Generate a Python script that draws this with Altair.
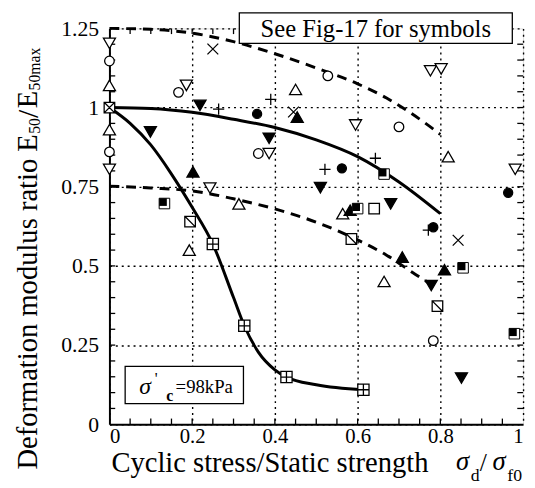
import altair as alt
import pandas as pd

# ---------------- data ----------------
# open down-triangles
OTD_X = [0.0, 0.0, 0.186, 0.386, 0.595, 0.776, 0.802, 0.981, 0.243]
OTD_Y = [1.203, 0.805, 1.07, 0.855, 0.945, 1.116, 1.122, 0.805, 0.746]
# open circles
OC_X = [0.0, 0.0, 0.167, 0.528, 0.36, 0.70, 0.783]
OC_Y = [1.147, 0.86, 1.048, 1.10, 0.855, 0.939, 0.264]
# open up-triangles
OTU_X = [0.0, 0.0, 0.45, 0.819, 0.313, 0.193, 0.564, 0.664]
OTU_Y = [1.07, 0.93, 1.057, 0.845, 0.696, 0.55, 0.665, 0.451]
# filled down-triangles
FTD_X = [0.219, 0.099, 0.386, 0.51, 0.68, 0.778, 0.851]
FTD_Y = [1.007, 0.923, 0.903, 0.747, 0.696, 0.438, 0.146]
# filled up-triangles
FTU_X = [0.454, 0.202, 0.708, 0.81, 0.582]
FTU_Y = [0.97, 0.797, 0.528, 0.488, 0.676]
# filled circles
FC_X = [0.357, 0.562, 0.783, 0.964]
FC_Y = [0.98, 0.808, 0.622, 0.731]
# plus signs
PL_X = [0.264, 0.39, 0.521, 0.643, 0.771]
PL_Y = [0.995, 1.026, 0.805, 0.84, 0.613]
# crosses
CR_X = [0.25, 0.445, 0.843]
CR_Y = [1.185, 0.986, 0.581]
# shadowed filled squares
SQF_X = [0.133, 0.6, 0.664, 0.855, 0.979]
SQF_Y = [0.697, 0.681, 0.79, 0.494, 0.286]
# open squares
SQO_X = [0.64]
SQO_Y = [0.681]
# squares with diagonal
SQD_X = [0.195, 0.585, 0.793]
SQD_Y = [0.64, 0.585, 0.373]
# squares with plus (98 kPa series)
SQP_X = [0.25, 0.326, 0.428, 0.614]
SQP_Y = [0.569, 0.311, 0.149, 0.109]
# origin symbol
ORG_X = [0.0]
ORG_Y = [1.0]

# curves
UPPER_SOLID_X = [0.0, 0.1, 0.2, 0.3, 0.4, 0.5, 0.6, 0.7, 0.8]
UPPER_SOLID_Y = [1.0, 0.997, 0.985, 0.963, 0.937, 0.898, 0.845, 0.765, 0.665]
LOWER_SOLID_X = [0.0, 0.05, 0.1, 0.15, 0.2, 0.25, 0.3, 0.326, 0.36, 0.4, 0.428, 0.5, 0.614]
LOWER_SOLID_Y = [1.0, 0.95, 0.882, 0.79, 0.685, 0.569, 0.40, 0.311, 0.228, 0.172, 0.149, 0.125, 0.109]
UPPER_DASH_X = [0.0, 0.1, 0.2, 0.3, 0.4, 0.5, 0.6, 0.67, 0.72, 0.78, 0.8]
UPPER_DASH_Y = [1.25, 1.247, 1.235, 1.208, 1.17, 1.125, 1.075, 1.03, 0.99, 0.935, 0.915]
LOWER_DASH_X = [0.0, 0.1, 0.2, 0.3, 0.4, 0.5, 0.6, 0.67, 0.74, 0.78]
LOWER_DASH_Y = [0.752, 0.746, 0.737, 0.712, 0.68, 0.638, 0.582, 0.534, 0.473, 0.44]

X_TICKS = [0, 0.2, 0.4, 0.6, 0.8, 1.0]
Y_TICKS = [0, 0.25, 0.5, 0.75, 1.0, 1.25]
X_MINOR = [0.05, 0.1, 0.15, 0.2, 0.25, 0.3, 0.35, 0.4, 0.45, 0.5, 0.55, 0.6, 0.65,
           0.7, 0.75, 0.8, 0.85, 0.9, 0.95]
Y_MINOR = [0.05, 0.1, 0.15, 0.2, 0.25, 0.3, 0.35, 0.4, 0.45, 0.5, 0.55, 0.6, 0.65,
           0.7, 0.75, 0.8, 0.85, 0.9, 0.95, 1.0, 1.05, 1.1, 1.15, 1.2]

FONT = "Liberation Serif"

xscale = alt.Scale(domain=[0, 1], nice=False, zero=False)
yscale = alt.Scale(domain=[0, 1.25], nice=False, zero=False)

xaxis = alt.Axis(values=X_TICKS, labelExpr="'' + datum.value", title=None, ticks=False, tickSize=0,
                 grid=True, gridDash=[2, 4], gridColor="black", gridWidth=1.4,
                 domainColor="black", domainWidth=2, labelFont=FONT, labelFontSize=21,
                 labelColor="black", labelPadding=1, labelBaseline="top")
yaxis = alt.Axis(values=Y_TICKS, labelExpr="'' + datum.value", title=None, ticks=False, tickSize=0,
                 grid=True, gridDash=[2, 4], gridColor="black", gridWidth=1.4,
                 domainColor="black", domainWidth=2, labelFont=FONT, labelFontSize=22,
                 labelColor="black", labelPadding=11)


def X(field="x"):
    return alt.X(f"{field}:Q", scale=xscale, axis=xaxis)


def Y(field="y"):
    return alt.Y(f"{field}:Q", scale=yscale, axis=yaxis)


def df(xs, ys):
    return pd.DataFrame({"x": xs, "y": ys})


layers = []

# minor ticks (inward) on all four sides
layers.append(alt.Chart(pd.DataFrame({"x": X_MINOR})).mark_rule(color="black", strokeWidth=1.3)
              .encode(x=X(), y=alt.datum(0), y2=alt.datum(0.018)))
layers.append(alt.Chart(pd.DataFrame({"x": X_MINOR})).mark_rule(color="black", strokeWidth=1.3)
              .encode(x=X(), y=alt.datum(1.232), y2=alt.datum(1.25)))
layers.append(alt.Chart(pd.DataFrame({"y": Y_MINOR})).mark_rule(color="black", strokeWidth=1.3)
              .encode(y=Y(), x=alt.datum(0), x2=alt.datum(0.014)))
layers.append(alt.Chart(pd.DataFrame({"y": Y_MINOR})).mark_rule(color="black", strokeWidth=1.3)
              .encode(y=Y(), x=alt.datum(0.986), x2=alt.datum(1.0)))

# curves
for xs, ys, dash in [(UPPER_SOLID_X, UPPER_SOLID_Y, None), (LOWER_SOLID_X, LOWER_SOLID_Y, None),
                     (UPPER_DASH_X, UPPER_DASH_Y, [10, 7]), (LOWER_DASH_X, LOWER_DASH_Y, [10, 7])]:
    kw = dict(color="black", strokeWidth=3, interpolate="monotone")
    if dash:
        kw["strokeDash"] = dash
    layers.append(alt.Chart(df(xs, ys)).mark_line(**kw).encode(x=X(), y=Y()))

SQUARE_PLUS = "M-1,-1H1V1H-1Z M0,-1V1 M-1,0H1"
SQUARE_DIAG = "M-1,-1H1V1H-1Z M-1,-1L1,1"
SQUARE_X = "M-1,-1H1V1H-1Z M-1,-1L1,1 M-1,1L1,-1"
PLUS = "M-1,0H1 M0,-1V1"
CROSS = "M-1,-1L1,1 M-1,1L1,-1"
SHADOW = "M-1,-1H0.45V0.45H-1Z"


def pts(xs, ys, shape, size, fill, stroke="black", sw=1.3):
    return alt.Chart(df(xs, ys)).mark_point(shape=shape, size=size, filled=True, fill=fill,
                                            stroke=stroke, strokeWidth=sw, opacity=1).encode(x=X(), y=Y())


layers.append(pts(OTD_X, OTD_Y, "triangle-down", 150, "white"))
layers.append(pts(OC_X, OC_Y, "circle", 95, "white"))
layers.append(pts(OTU_X, OTU_Y, "triangle-up", 150, "white"))
layers.append(pts(FTD_X, FTD_Y, "triangle-down", 150, "black"))
layers.append(pts(FTU_X, FTU_Y, "triangle-up", 150, "black"))
layers.append(pts(FC_X, FC_Y, "circle", 85, "black"))
layers.append(alt.Chart(df(PL_X, PL_Y)).mark_point(shape=PLUS, size=130, filled=False, stroke="black",
                                                    strokeWidth=1.3, opacity=1).encode(x=X(), y=Y()))
layers.append(alt.Chart(df(CR_X, CR_Y)).mark_point(shape=CROSS, size=120, filled=False, stroke="black",
                                                    strokeWidth=1.3, opacity=1).encode(x=X(), y=Y()))
layers.append(pts(SQF_X, SQF_Y, "square", 115, "white", sw=1.0))
layers.append(alt.Chart(df(SQF_X, SQF_Y)).mark_point(shape=SHADOW, size=115, filled=True, fill="black",
                                                      strokeWidth=0, opacity=1).encode(x=X(), y=Y()))
layers.append(pts(SQO_X, SQO_Y, "square", 115, "white"))
layers.append(pts(SQD_X, SQD_Y, SQUARE_DIAG, 115, "white"))
layers.append(pts(SQP_X, SQP_Y, SQUARE_PLUS, 130, "white"))
layers.append(pts(ORG_X, ORG_Y, SQUARE_X, 115, "white"))

one = pd.DataFrame({"a": [0]})

# "See Fig-17 for symbols" box
layers.append(alt.Chart(one).mark_rect(fill="white", stroke="black", strokeWidth=1.3)
              .encode(x=alt.datum(0.314), x2=alt.datum(0.974), y=alt.datum(1.203), y2=alt.datum(1.299)))
layers.append(alt.Chart(one).mark_text(text="See Fig-17 for symbols", font=FONT, fontSize=25,
                                       color="black", align="center", baseline="alphabetic")
              .encode(x=alt.datum(0.644), y=alt.datum(1.222)))

# sigma'c = 98 kPa box
layers.append(alt.Chart(one).mark_rect(fill="white", stroke="black", strokeWidth=1.3)
              .encode(x=alt.datum(0.038), x2=alt.datum(0.324), y=alt.datum(0.065), y2=alt.datum(0.183)))
layers.append(alt.Chart(one).mark_text(text="σ", font=FONT, fontSize=24, fontStyle="italic",
                                       color="black", align="center", baseline="alphabetic")
              .encode(x=alt.datum(0.086), y=alt.datum(0.097)))
layers.append(alt.Chart(one).mark_text(text="'", font=FONT, fontSize=16,
                                       color="black", align="center", baseline="alphabetic")
              .encode(x=alt.datum(0.113), y=alt.datum(0.128)))
layers.append(alt.Chart(one).mark_text(text="c", font=FONT, fontSize=16, fontWeight="bold",
                                       color="black", align="center", baseline="alphabetic")
              .encode(x=alt.datum(0.146), y=alt.datum(0.075)))
layers.append(alt.Chart(one).mark_text(text="=98kPa", font=FONT, fontSize=19,
                                       color="black", align="left", baseline="alphabetic")
              .encode(x=alt.datum(0.160), y=alt.datum(0.099)))


# axis titles (pixel positions relative to the plot area)
def label(text, x, y, size, angle=0, style="normal", align="left"):
    return (alt.Chart(one).mark_text(text=text, font=FONT, fontSize=size, fontStyle=style,
                                     color="black", align=align, baseline="alphabetic", angle=angle)
            .encode(x=alt.value(x), y=alt.value(y)))


layers.append(label("Cyclic stress/Static strength", 2, 450, 29))
layers.append(label("σ", 352, 448, 27, style="italic"))
layers.append(label("d", 367, 460, 18))
layers.append(label("/", 376, 449, 26))
layers.append(label("σ", 389, 448, 27, style="italic"))
layers.append(label("f0", 404, 460, 18))

layers.append(label("Deformation modulus ratio E", -74, 448, 29, angle=270))
layers.append(label("50", -70, 107, 16, angle=270))
layers.append(label("/", -73, 91, 30, angle=270))
layers.append(label("E", -74, 81, 29, angle=270))
layers.append(label("50max", -70, 63, 16, angle=270))

chart = (alt.layer(*layers)
         .properties(width=420, height=402,
                     autosize=alt.AutoSizeParams(type="none"),
                     padding={"left": 103, "top": 17, "right": 4, "bottom": 61})
         .configure_view(stroke="black", strokeWidth=2)
         .configure(background="white"))

chart.save("out.html", embed_options={"renderer": "svg", "actions": False})
